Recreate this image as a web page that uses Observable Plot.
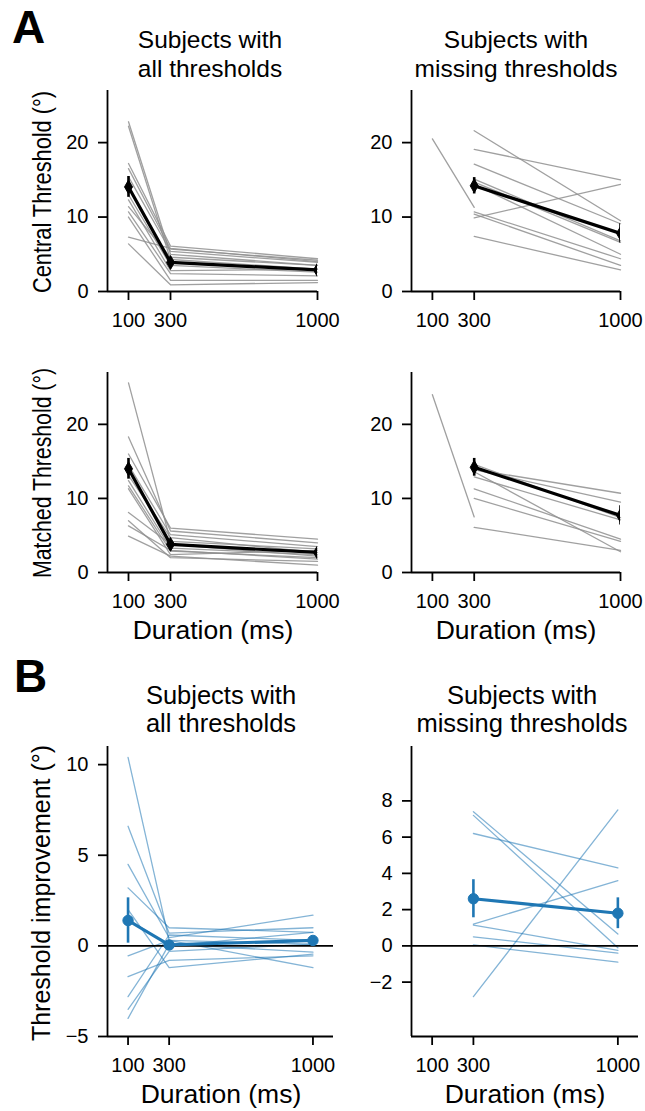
<!DOCTYPE html>
<html><head><meta charset="utf-8">
<script src="https://cdn.jsdelivr.net/npm/d3@7"></script>
<script src="https://cdn.jsdelivr.net/npm/@observablehq/plot@0.6"></script>
<style>
body{margin:0;background:#fff;}
#wrap{position:relative;width:645px;height:1111px;font-family:"Liberation Sans",Arial,sans-serif;overflow:hidden;}
#wrap svg{position:absolute;overflow:visible;}
</style></head><body><div id="wrap"></div>
<script>
// ---- data ----
const durations = [100, 300, 1000];
const xTicks = [100, 300, 1000];
const thresholdTicks = [0, 10, 20];
const improvTicksAll = [-5, 0, 5, 10];
const improvTicksMissing = [-2, 0, 2, 4, 6, 8];

// Central threshold, subjects with all thresholds  [100, 300, 1000 ms]
const centralAll = [
  [22.8, 5.0, 3.5], [22.2, 4.3, 3.0], [17.2, 6.1, 4.4], [16.5, 5.7, 4.2],
  [15.4, 5.4, 3.9], [13.0, 3.5, 2.6], [12.3, 2.8, 3.0], [11.4, 4.6, 3.5],
  [10.7, 2.4, 2.1], [10.0, 1.5, 1.5], [7.3, 5.8, 4.0], [6.4, 0.9, 1.2]
];
const centralAllMean = [14.05, 3.9, 2.9];
const centralAllErr = [1.4, 0.45, 0.5];

// Central threshold, subjects with missing thresholds
const centralMissing = [
  [20.5, 11.3, null], [null, 21.6, 9.5], [null, 19.1, 15.0], [null, 17.1, 9.1],
  [null, 15.1, 6.8], [null, 14.7, 6.6], [null, 14.4, 5.0], [null, 10.7, 4.4],
  [null, 10.4, 3.5], [null, 9.9, 14.4], [null, 7.4, 2.9]
];
const centralMissingMean = [null, 14.2, 7.8];
const centralMissingErr = [null, 1.1, 1.3];

// Matched threshold, subjects with all thresholds
const matchedAll = [
  [25.6, 4.2, 3.2], [18.3, 5.6, 4.0], [16.0, 6.0, 4.5], [14.5, 5.1, 3.5],
  [13.1, 4.7, 2.7], [12.4, 3.3, 2.4], [11.7, 2.9, 2.0], [11.3, 2.4, 3.0],
  [8.1, 3.8, 2.2], [7.0, 2.0, 1.5], [6.3, 3.0, 1.8], [4.9, 2.2, 1.0]
];
const matchedAllMean = [14.0, 3.8, 2.7];
const matchedAllErr = [1.4, 0.4, 0.4];

// Matched threshold, subjects with missing thresholds
const matchedMissing = [
  [24.0, 7.5, null], [null, 13.9, 10.7], [null, 13.9, 9.5], [null, 13.6, 2.8],
  [null, 12.9, 7.1], [null, 11.3, 4.5], [null, 10.0, 4.2], [null, 6.1, 3.0],
  [null, 14.6, 7.4]
];
const matchedMissingMean = [null, 14.2, 7.7];
const matchedMissingErr = [null, 1.2, 1.3];

// Threshold improvement, subjects with all thresholds
const improvAll = [
  [10.4, 0.3, -1.2], [6.6, 0.7, 1.0], [4.5, 0.45, 1.7], [3.2, 1.0, 0.75],
  [2.0, -1.2, -0.45], [-0.55, 0.3, 0.1], [-1.7, -0.8, -0.55], [-2.8, 0.6, 0.3],
  [-3.5, -0.3, 0.1], [-4.0, 0.1, -0.35], [1.5, 0.0, 0.75]
];
const improvAllMean = [1.4, 0.05, 0.3];
const improvAllErr = [1.25, 0.2, 0.2];

// Threshold improvement, subjects with missing thresholds
const improvMissing = [
  [null, 7.4, 0.65], [null, 7.2, -0.1], [null, 6.2, 4.3], [null, 1.2, 3.6],
  [null, 1.15, -0.25], [null, 0.5, -0.4], [null, 0.05, -0.9], [null, -2.8, 7.5]
];
const improvMissingMean = [null, 2.6, 1.8];
const improvMissingErr = [null, 1.05, 0.85];

// ---- helpers ----
function toRows(subjects) {
  const rows = [];
  subjects.forEach((s, i) => s.forEach((v, j) => { if (v != null) rows.push({id: i, d: durations[j], v}); }));
  return rows;
}
function meanRows(m, e) {
  return m.map((v, j) => v == null ? null : {d: durations[j], v, lo: v - e[j], hi: v + e[j]}).filter(Boolean);
}

const wrap = document.getElementById("wrap");

function panel(cfg) {
  const mr = meanRows(cfg.mean, cfg.err);
  const marks = [
    Plot.axisX({ticks: xTicks, tickSize: 9, tickPadding: 12, strokeWidth: 1.8, label: null, tickFormat: d => String(d)}),
    Plot.axisY({ticks: cfg.yTicks, tickSize: 9, tickPadding: 10, strokeWidth: 1.8, label: null, tickFormat: d => d < 0 ? "\u2212" + Math.abs(d) : String(d)}),
    Plot.line(toRows(cfg.subjects), {x: "d", y: "v", z: "id", stroke: cfg.light, strokeOpacity: cfg.lightOpacity, strokeWidth: 1.3})
  ];
  if (cfg.zero) marks.push(Plot.ruleY([0], {stroke: "black", strokeWidth: 1.9}));
  marks.push(
    Plot.ruleX([0], {stroke: "black", strokeWidth: 1.8}),
    Plot.ruleY([cfg.yDomain[0]], {stroke: "black", strokeWidth: 1.8}),
    Plot.ruleX(mr, {x: "d", y1: "lo", y2: "hi", stroke: cfg.dark, strokeWidth: 2.6, clip: cfg.clip}),
    Plot.line(mr, {x: "d", y: "v", stroke: cfg.dark, strokeWidth: 3.2, clip: cfg.clip}),
    Plot.dot(mr, {x: "d", y: "v", fill: cfg.dark, stroke: cfg.dark, strokeWidth: 1, symbol: cfg.symbol, r: cfg.r, clip: cfg.clip})
  );
  const svg = Plot.plot({
    width: cfg.width, height: cfg.height,
    marginLeft: cfg.ml, marginRight: cfg.mr, marginTop: cfg.mt, marginBottom: cfg.mb,
    x: {type: "linear", domain: cfg.xDomain},
    y: {domain: cfg.yDomain},
    style: {background: "transparent", fontSize: "20px", fontFamily: "'Liberation Sans', Arial, sans-serif", color: "black", overflow: "visible"},
    marks
  });
  svg.style.left = cfg.left + "px";
  svg.style.top = cfg.top + "px";
  wrap.appendChild(svg);
}

const grayStyle = {light: "#8f8f8f", lightOpacity: 0.85, dark: "black", symbol: "diamond", r: 4.2, clip: true};
const blueStyle = {light: "#1f77b4", lightOpacity: 0.55, dark: "#1f77b4", symbol: "circle", r: 5.2, clip: false};

panel({...grayStyle, subjects: centralAll, mean: centralAllMean, err: centralAllErr,
  left: 0, top: 80, width: 350, height: 260, ml: 107, mr: 33, mt: 10, mb: 49,
  xDomain: [0, 1000], yDomain: [0, 27], yTicks: thresholdTicks});
panel({...grayStyle, subjects: centralMissing, mean: centralMissingMean, err: centralMissingErr,
  left: 305, top: 80, width: 340, height: 260, ml: 106, mr: 25, mt: 10, mb: 49,
  xDomain: [0, 1000], yDomain: [0, 27], yTicks: thresholdTicks});
panel({...grayStyle, subjects: matchedAll, mean: matchedAllMean, err: matchedAllErr,
  left: 0, top: 360, width: 350, height: 260, ml: 107, mr: 33, mt: 12, mb: 48,
  xDomain: [0, 1000], yDomain: [0, 27], yTicks: thresholdTicks});
panel({...grayStyle, subjects: matchedMissing, mean: matchedMissingMean, err: matchedMissingErr,
  left: 305, top: 360, width: 340, height: 260, ml: 106, mr: 25, mt: 12, mb: 48,
  xDomain: [0, 1000], yDomain: [0, 27], yTicks: thresholdTicks});
panel({...blueStyle, subjects: improvAll, mean: improvAllMean, err: improvAllErr, zero: true,
  left: 0, top: 736, width: 350, height: 350, ml: 107, mr: 17, mt: 10, mb: 50,
  xDomain: [0, 1100], yDomain: [-5, 11], yTicks: improvTicksAll});
panel({...blueStyle, subjects: improvMissing, mean: improvMissingMean, err: improvMissingErr, zero: true,
  left: 305, top: 736, width: 340, height: 350, ml: 106, mr: 7, mt: 10, mb: 50,
  xDomain: [0, 1100], yDomain: [-5, 11], yTicks: improvTicksMissing});

// ---- text overlay ----
const over = d3.select(wrap).append("svg").attr("width", 645).attr("height", 1111)
  .style("left", "0px").style("top", "0px")
  .attr("font-family", "'Liberation Sans', Arial, sans-serif").attr("fill", "black");
function txt(x, y, s, size, opts = {}) {
  const t = over.append("text").attr("x", x).attr("y", y).attr("font-size", size)
    .attr("text-anchor", opts.anchor || "middle").text(s);
  if (opts.bold) t.attr("font-weight", "bold");
  if (opts.rot) t.attr("transform", `rotate(-90 ${x} ${y})`);
  if (opts.len) t.attr("textLength", opts.len).attr("lengthAdjust", "spacingAndGlyphs");
  return t;
}
txt(12, 43, "A", 46, {anchor: "start", bold: true});
txt(14, 692, "B", 46, {anchor: "start", bold: true});
txt(210, 48, "Subjects with", 24.5); txt(210, 77, "all thresholds", 24.5);
txt(516, 48, "Subjects with", 24.5); txt(516, 77, "missing thresholds", 24.5);
txt(221, 704, "Subjects with", 25.5); txt(221, 732, "all thresholds", 25.5);
txt(522, 704, "Subjects with", 25.5); txt(522, 732, "missing thresholds", 25.5);
txt(51, 192, "Central Threshold (°)", 26, {rot: true, len: 202});
txt(51, 473, "Matched Threshold (°)", 26, {rot: true, len: 210});
txt(50, 893, "Threshold improvement (°)", 25, {rot: true});
txt(213, 639, "Duration (ms)", 26.5); txt(516, 639, "Duration (ms)", 26.5);
txt(221, 1103, "Duration (ms)", 26.5); txt(525, 1103, "Duration (ms)", 26.5);
</script></body></html>
